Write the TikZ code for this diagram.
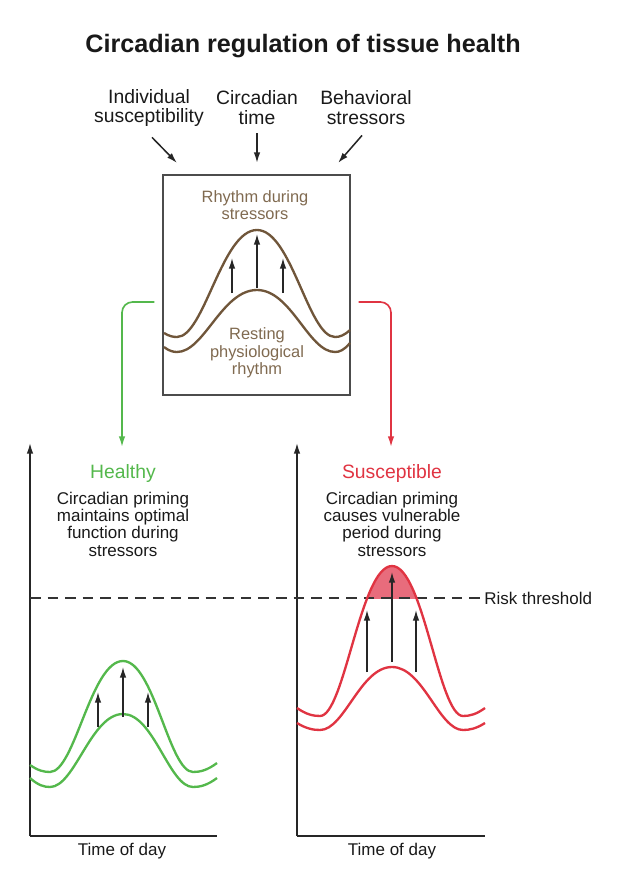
\documentclass[tikz,border=0pt]{standalone}
\usepackage{fontspec}
\setmainfont{Liberation Sans}
\usetikzlibrary{arrows.meta}

\definecolor{healthgreen}{RGB}{84,184,76}
\definecolor{riskred}{RGB}{224,52,66}
\definecolor{riskfill}{RGB}{232,108,124}
\definecolor{rhythmbrown}{RGB}{112,86,58}
\definecolor{boxbrown}{RGB}{128,106,80}

\newcommand{\titlesize}{\fontsize{21.5}{24}\selectfont}
\newcommand{\topsize}{\fontsize{16.5}{17}\selectfont}
\newcommand{\bodysize}{\fontsize{14.5}{14.8}\selectfont}
\newcommand{\boxsize}{\fontsize{14}{14.8}\selectfont}

% wave: left end, left minimum, peak, right minimum, right end
\newcommand{\wavepath}[9]{(#1,#2) .. controls ({#1+0.4*(#3-#1)},{#2+0.8*(#4-#2)}) and ({#3-0.3*(#3-#1)},#4) .. (#3,#4)
  .. controls ({#3+0.34*(#5-#3)},#4) and ({#5-0.44*(#5-#3)},#6) .. (#5,#6)
  .. controls ({#5+0.44*(#7-#5)},#6) and ({#7-0.34*(#7-#5)},#4) .. (#7,#4)
  .. controls ({#7+0.3*(#8-#7)},#4) and ({#8-0.4*(#8-#7)},{#9+0.8*(#4-#9)}) .. (#8,#9)}

\begin{document}
\begin{tikzpicture}[x=0.03cm,y=-0.03cm,
    axis/.style={draw=black!85,line width=1.2pt},
    tip/.style={-{Latex[length=9pt,width=5.5pt]}},
    rise/.style={tip,draw=black!85,line width=1.1pt},
    wave/.style={line width=2pt},
    threshold/.style={draw=black!80,line width=1.1pt,dash pattern=on 9pt off 6pt}]

  \useasboundingbox (0,0) rectangle (620,878);

  \begin{scope}[every node/.style={align=center,text=black!90,inner sep=1pt}]
    \node[font=\titlesize\bfseries] (title) at (303,46) {Circadian regulation of tissue health};
    \node[font=\topsize] (indiv) at (149,108) {Individual\\susceptibility};
    \node[font=\topsize] (ctime) at (257,108) {Circadian\\time};
    \node[font=\topsize] (behav) at (366,108) {Behavioral\\stressors};
    \node[font=\topsize,text=healthgreen] (healthy) at (123,473) {Healthy};
    \node[font=\topsize,text=riskred] (suscept) at (392,473) {Susceptible};
    \node[font=\bodysize] (hdesc) at (123,524) {Circadian priming\\maintains optimal\\function during\\stressors};
    \node[font=\bodysize] (sdesc) at (392,524) {Circadian priming\\causes vulnerable\\period during\\stressors};
    \node[font=\bodysize,anchor=west] (risk) at (483,598) {Risk threshold};
    \node[font=\bodysize] (ltime) at (122,851) {Time of day};
    \node[font=\bodysize] (rtime) at (392,851) {Time of day};
  \end{scope}

  % rhythm box
  \node[draw=black!70,line width=1.2pt,minimum width=5.61cm,minimum height=6.6cm,inner sep=0pt] (box) at (256.5,285) {};
  \begin{scope}[every node/.style={align=center,text=boxbrown,font=\boxsize,inner sep=1pt}]
    \node (stress) at (255,205) {Rhythm during\\stressors};
    \node (rest) at (257,353) {Resting\\physiological\\rhythm};
  \end{scope}
  \draw[wave,rhythmbrown] \wavepath{164}{333}{177}{337}{257}{230}{335}{350}{330};
  \draw[wave,rhythmbrown] \wavepath{164}{347}{177}{352}{257}{290}{335}{350}{343};
  \draw[rise] (257,288) -- (257,234);
  \draw[rise] (232,293) -- (232,258);
  \draw[rise] (283,293) -- (283,258);

  % inputs
  \coordinate (inA) at (177,163);
  \coordinate (inB) at (257,163);
  \coordinate (inC) at (338,163);
  \draw[rise,line width=1.3pt] ([shift={(3,9)}]indiv.south) -- (inA);
  \draw[rise,line width=1.3pt] ([shift={(0,7)}]ctime.south) -- (inB);
  \draw[rise,line width=1.3pt] ([shift={(-4,9)}]behav.south) -- (inC);

  % outcomes
  \coordinate (toHealthy) at (122,447);
  \coordinate (toSuscept) at (391,447);
  \draw[tip,healthgreen,line width=1.4pt,rounded corners=9pt] ([shift={(-8,17)}]box.west) -| (toHealthy);
  \draw[tip,riskred,line width=1.4pt,rounded corners=9pt] ([shift={(8,17)}]box.east) -| (toSuscept);

  % axes
  \coordinate (lorigin) at (30,836);
  \coordinate (ltop) at (30,443);
  \coordinate (lright) at (217,836);
  \coordinate (rorigin) at (297,836);
  \coordinate (rtop) at (297,443);
  \coordinate (rright) at (485,836);
  \draw[axis,tip] (lorigin) -- (ltop);
  \draw[axis] (lorigin) -- (lright);
  \draw[axis,tip] (rorigin) -- (rtop);
  \draw[axis] (rorigin) -- (rright);

  % vulnerable period
  \begin{scope}
    \clip (297,598) rectangle (485,540);
    \fill[riskfill] \wavepath{297}{708}{320}{716}{392}{566}{463}{485}{708} -- cycle;
  \end{scope}
  \draw[threshold] (ltop |- risk.west) -- (risk.west);

  % healthy rhythm
  \draw[wave,healthgreen] \wavepath{30}{765}{50}{772}{123}{661}{193}{217}{763};
  \draw[wave,healthgreen] \wavepath{30}{778}{50}{787}{123}{714}{193}{217}{778};
  \draw[rise] (123,717) -- (123,667);
  \draw[rise] (98,727) -- (98,692);
  \draw[rise] (148,727) -- (148,692);

  % susceptible rhythm
  \draw[wave,riskred] \wavepath{297}{708}{320}{716}{392}{566}{463}{485}{708};
  \draw[wave,riskred] \wavepath{297}{723}{320}{730}{392}{667}{463}{485}{723};
  \draw[rise] (392,662) -- (392,572);
  \draw[rise] (367,672) -- (367,610);
  \draw[rise] (416,672) -- (416,610);

\end{tikzpicture}
\end{document}
